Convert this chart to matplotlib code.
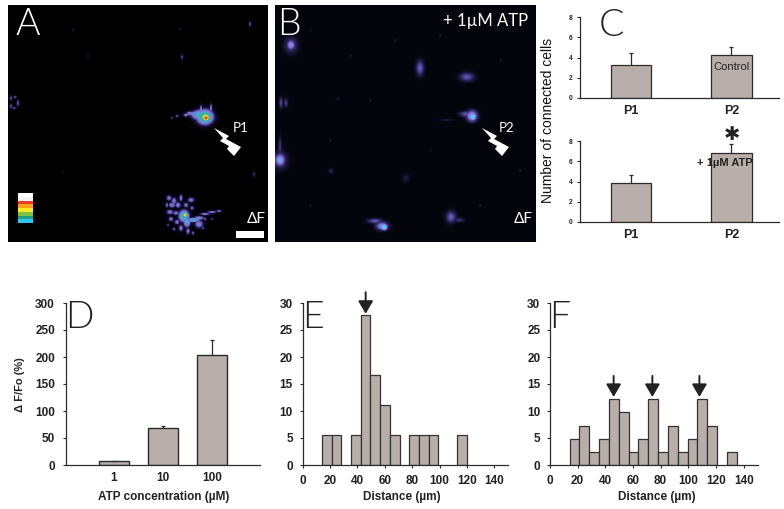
import numpy as np
import matplotlib
matplotlib.use("Agg")
import matplotlib.pyplot as plt
from matplotlib.colors import LinearSegmentedColormap
from matplotlib.patches import Polygon, Rectangle

W, H = 784, 509
SANS = "Liberation Sans"
plt.rcParams["font.family"] = [SANS, "DejaVu Sans"]
GRAY = "#b8afab"
DARK = "#2b2b2b"

# --- chart values ---
c_labels = ["P1", "P2"]
c_control = [3.3, 4.2]
c_control_top = [4.4, 5.05]
c_atp = [3.9, 6.85]
c_atp_top = [4.65, 7.7]
c_ticks = [0, 2, 4, 6, 8]

d_labels = ["1", "10", "100"]
d_values = [7, 68, 204]
d_top = [8, 73, 232]
d_ticks = [0, 50, 100, 150, 200, 250, 300]

hist_ticks = list(range(0, 141, 20))
hist_yticks = [0, 5, 10, 15, 20, 25, 30]
e_left = [14, 21.1, 35.3, 42.4, 49.5, 56.6, 63.7, 78, 85, 92, 113]
e_values = [5.55, 5.55, 5.55, 27.8, 16.7, 11.1, 5.55, 5.55, 5.55, 5.55, 5.55]
e_arrows = [46]
f_left = [14.2, 21.3, 28.4, 35.5, 42.6, 49.7, 56.8, 63.9, 71, 78.1, 85.2, 92.3, 99.4, 106.5, 113.6, 127.8]
f_values = [4.9, 7.3, 2.45, 4.9, 12.2, 9.75, 2.45, 4.9, 12.2, 2.45, 7.3, 2.45, 4.9, 12.2, 7.3, 2.45]
f_arrows = [46, 74, 108]

# Micrograph cells: x px, y px, sigma x, sigma y, intensity
cells_a = [
    (206, 118, 2.4, 2.4, 1.0), (206, 117.5, 3.4, 3.2, 0.84), (205, 117, 5.2, 4.6, 0.66), (201, 115, 6, 3.4, 0.48),
    (195, 114, 3.6, 1.9, 0.34), (190, 113.5, 2.8, 1.5, 0.28), (186, 115, 1.9, 1.3, 0.24), (177, 116, 1.2, 1, 0.18),
    (172, 118, 1, 1, 0.14), (201, 109, 1.1, 3, 0.24), (211, 108, 1, 3, 0.24),
    (185, 215, 2.1, 2.1, 0.76), (184, 216, 3.4, 3.8, 0.52), (187, 222, 2.3, 3.4, 0.4), (193, 220, 4.6, 1.5, 0.42),
    (199, 218, 3.6, 1.3, 0.3), (205, 214, 3.6, 1, 0.24), (212, 212, 3.6, 1, 0.22), (219, 211, 1.9, 0.9, 0.22),
    (169, 198, 1.9, 1.9, 0.24), (174, 201, 1.9, 2.5, 0.24), (181, 198, 1.3, 2.5, 0.24), (172, 205, 2.5, 1.9, 0.26),
    (178, 205, 2, 2, 0.26), (167, 205, 1.3, 1.9, 0.2), (191, 200, 2.3, 1.8, 0.24), (186, 205, 1.9, 1.9, 0.22),
    (192, 208, 1.5, 1.5, 0.2), (170, 212, 2.5, 1.8, 0.24), (176, 213, 2.5, 1.6, 0.22), (171, 219, 1.8, 1.8, 0.22),
    (177, 222, 1.8, 1.8, 0.24), (181, 228, 1.6, 2.3, 0.24), (188, 231, 1.5, 2.5, 0.22), (193, 233, 1.1, 1.5, 0.18),
    (199, 224, 3, 2.8, 0.26), (205, 219, 1.3, 1.3, 0.18), (174, 229, 1.3, 1.3, 0.18), (168, 225, 1, 1, 0.16),
    (212, 219, 1, 1, 0.15), (203, 228, 1.1, 1.1, 0.17),
    (11, 98, 1, 1.9, 0.17), (11, 106, 1, 1.9, 0.17), (15, 97, 1.5, 1, 0.17), (18, 103, 1.1, 2.5, 0.18), (14, 108, 1.9, 0.9, 0.16),
    (250, 24, 1, 2.2, 0.16), (182, 57, 1, 2.2, 0.15), (254, 174, 1, 2.2, 0.13),
    (88, 56, 1, 1, 0.1), (73, 30, 0.9, 0.9, 0.1), (180, 29, 0.9, 1.1, 0.08), (63, 172, 0.8, 0.9, 0.07),
]
cells_b = [
    (291, 45, 2.6, 3.2, 0.38), (291, 45, 4.2, 5.2, 0.16), (420, 68, 2.5, 4.8, 0.23), (467, 77, 4.6, 2.8, 0.21),
    (473, 117, 1.8, 1.9, 0.8), (472, 116, 3.4, 3.4, 0.45), (466, 114, 4.2, 1.8, 0.21), (447, 120, 4.5, 0.8, 0.06),
    (281, 103, 1.2, 3.4, 0.18), (286, 103, 1.2, 2.8, 0.16), (280, 160, 3.2, 3.9, 0.44), (280, 160, 4.4, 5.7, 0.18), (280, 147, 1.2, 6.5, 0.13),
    (384, 227, 2.1, 1.9, 0.78), (382, 226, 3.9, 2.6, 0.36), (375, 221, 4.6, 1.6, 0.22), (451, 217, 3.2, 3.7, 0.23),
    (459, 220, 3.5, 1.4, 0.12), (331, 171, 1.6, 1.6, 0.09), (406, 178, 2.6, 2.6, 0.06), (338, 99, 1.2, 1.2, 0.05),
]
speck_b = [(310, 30), (350, 55), (395, 40), (330, 140), (370, 100), (430, 150), (500, 60), (520, 170), (310, 205), (480, 205), (440, 35)]
rainbow_key = ["#ffffff", "#f6f0ee", "#ef3b2c", "#f7a11a", "#f6e927", "#7cc242", "#1f9e83", "#2fc7ef"]

cmap_a = LinearSegmentedColormap.from_list("a", [(0, "#000000"), (0.08, "#17123a"), (0.2, "#7a6ad0"), (0.38, "#4aa7d6"),
                                                 (0.52, "#2fb58a"), (0.68, "#e8e23a"), (0.85, "#f0801e"), (1, "#e5301f")])
cmap_b = LinearSegmentedColormap.from_list("b", [(0, "#04050c"), (0.12, "#3a2f78"), (0.28, "#8573d8"), (0.5, "#74bcf2"),
                                                 (0.75, "#35d8ee"), (1, "#078fa0")])

def micro(ax, box, cells, cmap):
    x0, x1, y0, y1 = box
    xx, yy = np.meshgrid(np.arange(x0, x1) + .5, np.arange(y0, y1) + .5)
    z = np.zeros_like(xx, dtype=float)
    for cx, cy, sx, sy, a in cells:
        z = np.maximum(z, a * np.exp(-((xx - cx) / sx) ** 2 / 2 - ((yy - cy) / sy) ** 2 / 2))
    ax.imshow(z, extent=(x0, x1, y1, y0), cmap=cmap, vmin=0, vmax=1, interpolation="bilinear", aspect="auto", zorder=1)

def axpx(l, r, t, b):
    return fig.add_axes([l / W, 1 - b / H, (r - l) / W, (b - t) / H])

def style(ax, fs=8.5, xticks=False, ypad=5):
    for s in ("top", "right"):
        ax.spines[s].set_visible(False)
    for s in ("left", "bottom"):
        ax.spines[s].set_color(DARK)
        ax.spines[s].set_linewidth(0.9)
    ax.tick_params(axis="y", length=2.5, width=0.8, color=DARK, labelsize=fs, pad=ypad, labelcolor="#222222")
    ax.tick_params(axis="x", length=2.5 if xticks else 0, width=0.8, color=DARK, labelsize=fs, labelcolor="#222222", pad=5)
    for t in ax.get_xticklabels() + ax.get_yticklabels():
        t.set_fontweight("bold")

fig = plt.figure(figsize=(W / 100, H / 100), dpi=100, facecolor="white")
canvas = fig.add_axes([0, 0, 1, 1])
canvas.set_xlim(0, W); canvas.set_ylim(H, 0); canvas.axis("off")

micro(canvas, (8, 268, 5, 242), cells_a, cmap_a)
canvas.add_patch(Rectangle((275, 5), 261, 237, fc="#04050c", ec="none", zorder=0.5))
micro(canvas, (275, 536, 5, 242), cells_b, cmap_b)
canvas.scatter(*zip(*speck_b), s=3, color="#171c2c", lw=0, zorder=2)
canvas.set_xlim(0, W); canvas.set_ylim(H, 0)
for i, c in enumerate(rainbow_key):
    canvas.add_patch(Rectangle((18, 193 + i * 30 / len(rainbow_key)), 15, 30 / len(rainbow_key) + .2, fc=c, ec="none", zorder=3))
canvas.add_patch(Rectangle((236, 231), 28, 7, fc="white", ec="none", zorder=3))

bolt = [(0, 0), (15, 8), (12, 11), (27, 19), (20, 28), (13, 21), (15, 18), (6, 13), (9, 10)]
for tx, ty in [(214, 128), (482, 128)]:
    canvas.add_patch(Polygon([(tx + a, ty + b) for a, b in bolt], fc="white", ec="none", zorder=4))

LIGHT = "Lato"
def txt(x, y, s, fs, c="white", va="center", **k):
    return canvas.text(x, y, s, fontsize=fs, color=c, family=[LIGHT, "DejaVu Sans"], ha="center", va=va, zorder=5, **k)

for x, y, s, c in [(28, 35, "A", "white"), (289, 35, "B", "white"), (612, 36, "C", "#222222"),
                   (79, 328, "D", "#222222"), (313, 328, "E", "#222222"), (560, 328, "F", "#222222")]:
    txt(x, y, s, 27, c, va="baseline", fontweight=300)
txt(241, 128, "P1", 9.5)
txt(507, 128, "P2", 9.5)
txt(256, 219, "ΔF", 11)
txt(523, 219, "ΔF", 11)
txt(486, 21, "+ 1µM ATP", 12)

# panel C
for (t, b, vals, tops) in [(17, 98, c_control, c_control_top), (141, 222, c_atp, c_atp_top)]:
    ax = axpx(580, 779, t, b)
    pos = range(len(c_labels))
    ax.bar(pos, vals, 0.405, color=GRAY, edgecolor=DARK, linewidth=0.9, zorder=2)
    ax.vlines(pos, vals, tops, color=DARK, linewidth=0.9, zorder=1)
    ax.hlines(tops, [p - .02 for p in pos], [p + .02 for p in pos], color=DARK, linewidth=0.9)
    ax.set_xlim(-0.507, 1.473); ax.set_ylim(0, 8)
    ax.set_yticks(c_ticks); ax.set_xticks(list(pos), c_labels)
    style(ax, 4.8, ypad=3)
    for l in ax.get_xticklabels():
        l.set_fontsize(9); l.set_fontweight("bold")
    ax.tick_params(axis="x", pad=5)
    ax.patch.set_alpha(0)
canvas.text(548, 120, "Number of connected cells", rotation=90, fontsize=10, ha="center", va="center", color="#111111")
fig.text(731 / W, 1 - 67 / H, "Control", fontsize=8, ha="center", va="center", color="#222222", zorder=9)
fig.text(725 / W, 1 - 163 / H, "+ 1µM ATP", fontsize=8, ha="center", va="center", color="#222222", fontweight="bold", zorder=9)
fig.text(732 / W, 1 - 135 / H, "✱", fontsize=14, ha="center", va="center", color="#222222", family="DejaVu Sans", zorder=9)

# panel D
ax = axpx(66, 260, 303, 465)
pos = range(len(d_labels))
ax.bar(pos, d_values, 0.61, color=GRAY, edgecolor=DARK, linewidth=1.0, zorder=2)
ax.vlines(pos, d_values, d_top, color=DARK, linewidth=0.9, zorder=1)
ax.hlines(d_top, [p - .04 for p in pos], [p + .04 for p in pos], color=DARK, linewidth=0.9)
ax.set_xlim(-0.98, 2.98); ax.set_ylim(0, 300)
ax.set_yticks(d_ticks); ax.set_xticks(list(pos), d_labels)
style(ax, ypad=5.5)
ax.set_xlabel("ATP concentration (µM)", fontsize=8.5, fontweight="bold", color="#222222", labelpad=4)
ax.xaxis.set_label_coords((164 - 66) / 194, -(497 - 465) / 162, transform=ax.transAxes)
ax.xaxis.label.set_va("center")
ax.set_ylabel("Δ F/Fo (%)", fontsize=8, fontweight="bold", color="#222222")
ax.yaxis.set_label_coords((20 - 66) / 194, 0.5 - (385 - 384) / 162, transform=ax.transAxes)
ax.yaxis.label.set_va("center")
ax.patch.set_alpha(0)

# panels E, F
def hist(box, left, values, arrows, tail, tip, label_x):
    ax = axpx(*box)
    ax.bar(left, values, 7.1, align="edge", color=GRAY, edgecolor="#333333", linewidth=0.9, zorder=2)
    ax.set_xlim(0, 150); ax.set_ylim(0, 30)
    ax.set_xticks(hist_ticks); ax.set_yticks(hist_yticks)
    style(ax, 8.5, xticks=True, ypad=4.5)
    ax.set_xlabel("Distance (µm)", fontsize=8.5, fontweight="bold", color="#222222")
    ax.xaxis.set_label_coords((label_x - box[0]) / (box[1] - box[0]), -(497 - 465) / 162, transform=ax.transAxes)
    ax.xaxis.label.set_va("center")
    for a in arrows:
        ax.annotate("", xy=(a, tip), xytext=(a, tail), annotation_clip=False, zorder=6,
                    arrowprops=dict(arrowstyle="-|>,head_width=0.32,head_length=0.55", color="#222222", lw=1.4,
                                    mutation_scale=14, shrinkA=0, shrinkB=0))
    ax.patch.set_alpha(0)

hist((302.7, 508, 303, 465), e_left, e_values, e_arrows, 32.0, 28.0, 402)
hist((550, 757.5, 303, 465), f_left, f_values, f_arrows, 16.5, 12.6, 657)

fig.savefig("out.png", dpi=100, facecolor="white")
